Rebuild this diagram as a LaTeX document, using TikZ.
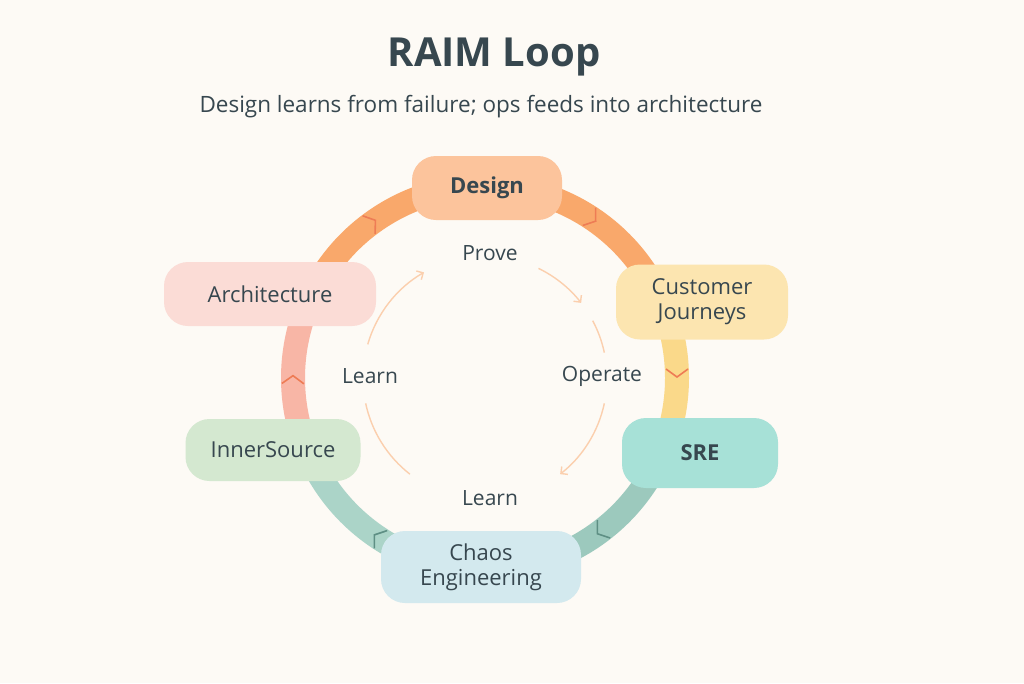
\documentclass[tikz,border=0pt]{standalone}
\usepackage{fontspec}
\setmainfont{Open Sans}
\usetikzlibrary{arrows.meta,decorations.markings}
\definecolor{bgcol}{HTML}{FDFAF5}
\definecolor{ink}{HTML}{37474F}
\definecolor{ringO}{HTML}{F9A86B}
\definecolor{ringY}{HTML}{FAD98A}
\definecolor{ringT}{HTML}{9CC9BD}
\definecolor{ringG}{HTML}{ABD4C8}
\definecolor{ringP}{HTML}{F8B6A6}
\definecolor{chev}{HTML}{EE7C55}
\definecolor{chevT}{HTML}{5E8F84}
\definecolor{inner}{HTML}{FBCFAE}
\definecolor{designfill}{HTML}{FCC49C}
\definecolor{journeyfill}{HTML}{FCE5B0}
\definecolor{srefill}{HTML}{A7E1D7}
\definecolor{chaosfill}{HTML}{D3E9EE}
\definecolor{innerfill}{HTML}{D4E8D0}
\definecolor{archfill}{HTML}{FBDCD6}

\tikzset{
  stage/.style={rounded corners=24pt,draw=none,text=ink,align=center,
                font=\fontsize{22}{25}\selectfont,inner sep=0pt},
  ring/.style={line width=24pt},
  chevron/.style={postaction={decorate},decoration={markings,
     mark=at position 0.5 with {\arrow[#1,line width=1.6pt]{Straight Barb[length=8pt,width=22pt]}}}},
  flow/.style={draw=inner,line width=1.4pt},
  flowlabel/.style={text=ink,font=\fontsize{21}{24}\selectfont}
}

\begin{document}
\begin{tikzpicture}[x=1pt,y=-1pt]
  \fill[bgcol] (0,0) rectangle (1024,683);
  \useasboundingbox (0,0) rectangle (1024,683);

  \coordinate (c) at (485,378);

  % outer ring, one arc per step
  \draw[ring,ringO,chevron=chev] ([shift={(c)}]-90:192) arc (-90:-19:192);
  \draw[ring,ringY,chevron=chev] ([shift={(c)}]-19:192) arc (-19:19:192);
  \draw[ring,ringT,chevron=chevT] ([shift={(c)}]19:192) arc (19:90:192);
  \draw[ring,ringG,chevron=chevT] ([shift={(c)}]90:192) arc (90:161:192);
  \draw[ring,ringP,chevron=chev] ([shift={(c)}]161:192) arc (161:201:192);
  \draw[ring,ringO,chevron=chev] ([shift={(c)}]201:192) arc (201:270:192);

  % stages
  \node[stage,fill=designfill,minimum width=150pt,minimum height=64pt] (design) at (487,188) {\textbf{Design}};
  \node[stage,fill=journeyfill,minimum width=172pt,minimum height=75pt] (journeys) at (702,302) {Customer\\Journeys};
  \node[stage,fill=srefill,minimum width=156pt,minimum height=70pt] (sre) at (700,453) {\textbf{SRE}};
  \node[stage,fill=chaosfill,minimum width=200pt,minimum height=72pt] (chaos) at (481,567) {Chaos\\Engineering};
  \node[stage,fill=innerfill,minimum width=175pt,minimum height=62pt] (inner) at (273,450) {InnerSource};
  \node[stage,fill=archfill,minimum width=212pt,minimum height=64pt] (arch) at (270,294) {Architecture};

  % inner cycle
  \node[flowlabel] (prove) at (490,253) {Prove};
  \node[flowlabel] (operate) at (602,376) {Operate};
  \node[flowlabel] (learnb) at (490,498) {Learn};
  \node[flowlabel] (learnl) at (370,376) {Learn};
  \draw[flow,-{Straight Barb[length=5pt,width=10pt]}] ([shift={(c)}]-64:122) arc (-64:-38:122);
  \draw[flow] ([shift={(c)}]-28:122) arc (-28:-12:122);
  \draw[flow,-{Straight Barb[length=5pt,width=10pt]}] ([shift={(c)}]12:122) arc (12:52:122);
  \draw[flow] ([shift={(c)}]128:122) arc (128:168:122);
  \draw[flow,-{Straight Barb[length=5pt,width=10pt]}] ([shift={(c)}]196:122) arc (196:240:122);

  % titles
  \node[text=ink,font=\fontsize{40}{46}\selectfont\bfseries] (title) at (494,57) {RAIM Loop};
  \node[text=ink,font=\fontsize{22.5}{26}\selectfont] (subtitle) at (481,107) {Design learns from failure; ops feeds into architecture};
\end{tikzpicture}
\end{document}
